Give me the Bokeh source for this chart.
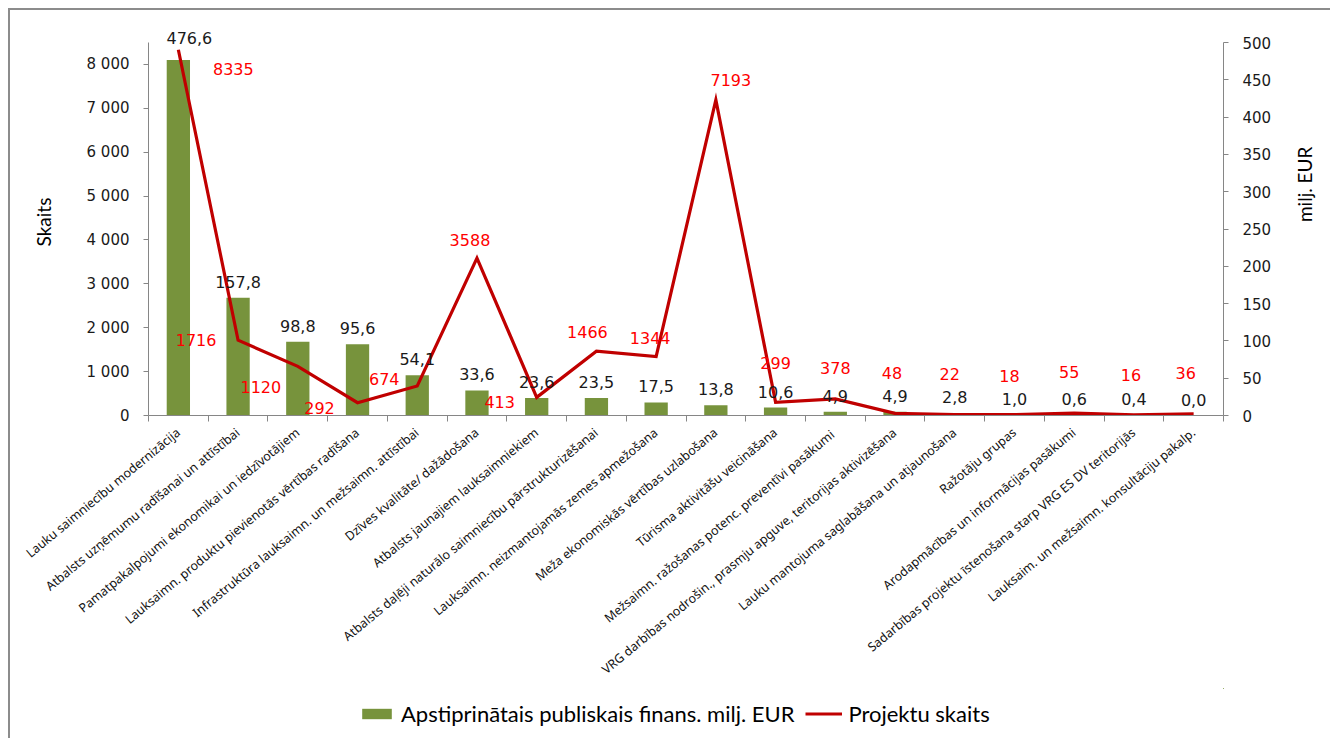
import math
from bokeh.plotting import figure
from bokeh.layouts import column
from bokeh.models import (ColumnDataSource, Range1d, LinearAxis, FixedTicker,
                          CustomJSTickFormatter, Legend, LegendItem)
from bokeh.core.properties import value
from bokeh.embed import file_html
from bokeh.resources import INLINE

categories = [
    "Lauku saimniecību modernizācija",
    "Atbalsts uzņēmumu radīšanai un attīstībai",
    "Pamatpakalpojumi ekonomikai un iedzīvotājiem",
    "Lauksaimn. produktu pievienotās vērtības radīšana",
    "Infrastruktūra lauksaimn. un mežsaimn. attīstībai",
    "Dzīves kvalitāte/ dažādošana",
    "Atbalsts jaunajiem lauksaimniekiem",
    "Atbalsts daļēji naturālo saimniecību pārstrukturizēšanai",
    "Lauksaimn. neizmantojamās zemes apmežošana",
    "Meža ekonomiskās vērtības uzlabošana",
    "Tūrisma aktivitāšu veicināšana",
    "Mežsaimn. ražošanas potenc.  preventīvi pasākumi",
    "VRG darbības nodrošin., prasmju apguve, teritorijas aktivizēšana",
    "Lauku mantojuma saglabāšana un atjaunošana",
    "Ražotāju grupas",
    "Arodapmācības un informācijas pasākumi",
    "Sadarbības projektu īstenošana starp VRG ES DV teritorijās",
    "Lauksaim. un mežsaimn. konsultāciju pakalp.",
]
funding = [476.6, 157.8, 98.8, 95.6, 54.1, 33.6, 23.6, 23.5, 17.5, 13.8,
           10.6, 4.9, 4.9, 2.8, 1.0, 0.6, 0.4, 0.0]
projects = [8335, 1716, 1120, 292, 674, 3588, 413, 1466, 1344, 7193,
            299, 378, 48, 22, 18, 55, 16, 36]
left_ticks = [0, 1000, 2000, 3000, 4000, 5000, 6000, 7000, 8000]
right_ticks = [0, 50, 100, 150, 200, 250, 300, 350, 400, 450, 500]
left_max = 8500
right_max = 500

# label placement (style only, screen pixels, +y = down)
proj_dx = [55, -42, -37, -38, -33, -7, -37, -9, -6, 15, 0, 0, -3, -5, -5, -5, -3, -8]
proj_dy = [19, 0, 21, 5, -7, -18, 5, -19, -19, -20, -39, -31, -40, -41, -39, -41, -40, -41]
fund_dx = [11] + [0] * 17
fund_dy = [-22] + [-16] * 17

n = len(categories)
xs = [i + 0.5 for i in range(n)]
src = ColumnDataSource(dict(
    x=xs, funding=funding, projects=projects,
    flab=[f"{v:.1f}".replace(".", ",") for v in funding],
    plab=[str(v) for v in projects],
    pdx=proj_dx, pdy=proj_dy, fdx=fund_dx, fdy=fund_dy,
))

# layout geometry (pixels)
axis_h = 373
pad_top = 14
top_border = 18
bottom_border = 273
frame_h = axis_h + pad_top
fig_h = top_border + frame_h + bottom_border
fig_w = 1320

p = figure(width=fig_w, height=fig_h, output_backend="svg", toolbar_location=None,
           x_range=Range1d(0, n),
           y_range=Range1d(0, left_max * frame_h / axis_h),
           min_border_left=138, min_border_right=102, min_border_top=top_border,
           min_border_bottom=bottom_border)
p.outline_line_color = None
p.xgrid.visible = False
p.ygrid.visible = False
p.background_fill_color = "white"

p.extra_y_ranges = {"right": Range1d(0, right_max * frame_h / axis_h)}

axis_color = "#868686"
num_font = "DejaVu Sans"

ya = p.yaxis[0]
ya.bounds = (0, left_max)
ya.ticker = FixedTicker(ticks=left_ticks)
ya.formatter = CustomJSTickFormatter(
    code="return Math.round(tick).toString().replace(/\\B(?=(\\d{3})+(?!\\d))/g, ' ');")
ya.axis_line_color = axis_color
ya.major_tick_line_color = axis_color
ya.major_tick_out = 5
ya.major_tick_in = 0
ya.minor_tick_line_color = None
ya.major_label_text_font = num_font
ya.major_label_text_font_size = "15px"
ya.major_label_text_color = "#1a1a1a"
ya.major_label_standoff = 14
ya.axis_label = "Skaits"
ya.axis_label_text_font = "Lato"
ya.axis_label_text_font_size = "19px"
ya.axis_label_text_font_style = "normal"
ya.axis_label_text_color = "black"
ya.axis_label_standoff = 29

ra = LinearAxis(y_range_name="right", ticker=FixedTicker(ticks=right_ticks))
ra.bounds = (0, right_max)
ra.axis_line_color = axis_color
ra.major_tick_line_color = axis_color
ra.major_tick_out = 5
ra.major_tick_in = 0
ra.minor_tick_line_color = None
ra.major_label_text_font = num_font
ra.major_label_text_font_size = "15px"
ra.major_label_text_color = "#1a1a1a"
ra.major_label_standoff = 14
ra.axis_label = "milj. EUR"
ra.axis_label_text_font = "Lato"
ra.axis_label_text_font_size = "19px"
ra.axis_label_text_font_style = "normal"
ra.axis_label_text_color = "black"
ra.axis_label_text_align = "center"
ra.axis_label_standoff = 30
if "axis_label_orientation" in ra.properties():
    ra.axis_label_orientation = math.pi / 2
p.add_layout(ra, "right")

xa = p.xaxis[0]
xa.ticker = FixedTicker(ticks=xs, minor_ticks=list(range(n + 1)))
xa.formatter = CustomJSTickFormatter(args=dict(cats=categories),
                                     code="return cats[Math.floor(tick)] || '';")
xa.axis_line_color = axis_color
xa.major_tick_line_color = None
xa.major_tick_out = 0
xa.major_tick_in = 0
xa.minor_tick_line_color = axis_color
xa.minor_tick_out = 6
xa.minor_tick_in = 0
xa.major_label_orientation = 0.69
xa.major_label_text_font = "Noto Sans"
xa.major_label_text_font_size = "12.5px"
xa.major_label_text_color = "#111111"
xa.major_label_standoff = 9

bar_color = "#77933C"
line_color = "#C00000"

p.vbar(x="x", top="funding", width=0.39, y_range_name="right", source=src,
       fill_color=bar_color, line_color=None)
p.line(x="x", y="projects", source=src, line_color=line_color, line_width=3.2,
       line_join="miter")

p.text(x="x", y="funding", text="flab", source=src, y_range_name="right",
       x_offset="fdx", y_offset="fdy", text_align="center", text_baseline="middle",
       text_font=value(num_font), text_font_size="16px", text_color="#1a1a1a")
p.text(x="x", y="projects", text="plab", source=src,
       x_offset="pdx", y_offset="pdy", text_align="center", text_baseline="middle",
       text_font=value(num_font), text_font_size="16px", text_color="#FF0000")

# legend strip under the chart; its swatch renderers lie outside its visible range
lf = figure(width=fig_w, height=50, output_backend="svg", toolbar_location=None,
            x_axis_location=None, y_axis_location=None,
            x_range=Range1d(-10, -9), y_range=Range1d(-10, -9),
            min_border_left=0, min_border_right=0, min_border_top=0,
            min_border_bottom=0)
lf.outline_line_color = None
lf.xgrid.visible = False
lf.ygrid.visible = False
sw_bar = lf.vbar(x="x", top="funding", width=0.39, source=src,
                 fill_color=bar_color, line_color=None)
sw_line = lf.line(x="x", y="projects", source=src, line_color=line_color, line_width=3.2)
legend = Legend(items=[
    LegendItem(label="Apstiprinātais publiskais finans. milj. EUR", renderers=[sw_bar]),
    LegendItem(label="Projektu skaits", renderers=[sw_line]),
], orientation="horizontal", location=(210, 11))
legend.border_line_color = None
legend.background_fill_alpha = 0
legend.label_text_font = "Lato"
legend.label_text_font_size = "22px"
legend.label_text_color = "black"
legend.glyph_width = 37
legend.glyph_height = 13
legend.label_standoff = 6
legend.spacing = 11
legend.padding = 4
legend.margin = 0
lf.add_layout(legend, "center")

layout = column(p, lf)
layout.styles = {"margin-left": "8px", "margin-top": "8px",
                 "border-top": "2px solid #8c8c8c", "border-left": "2px solid #8c8c8c"}

open("out.html", "w").write(file_html(layout, INLINE))
